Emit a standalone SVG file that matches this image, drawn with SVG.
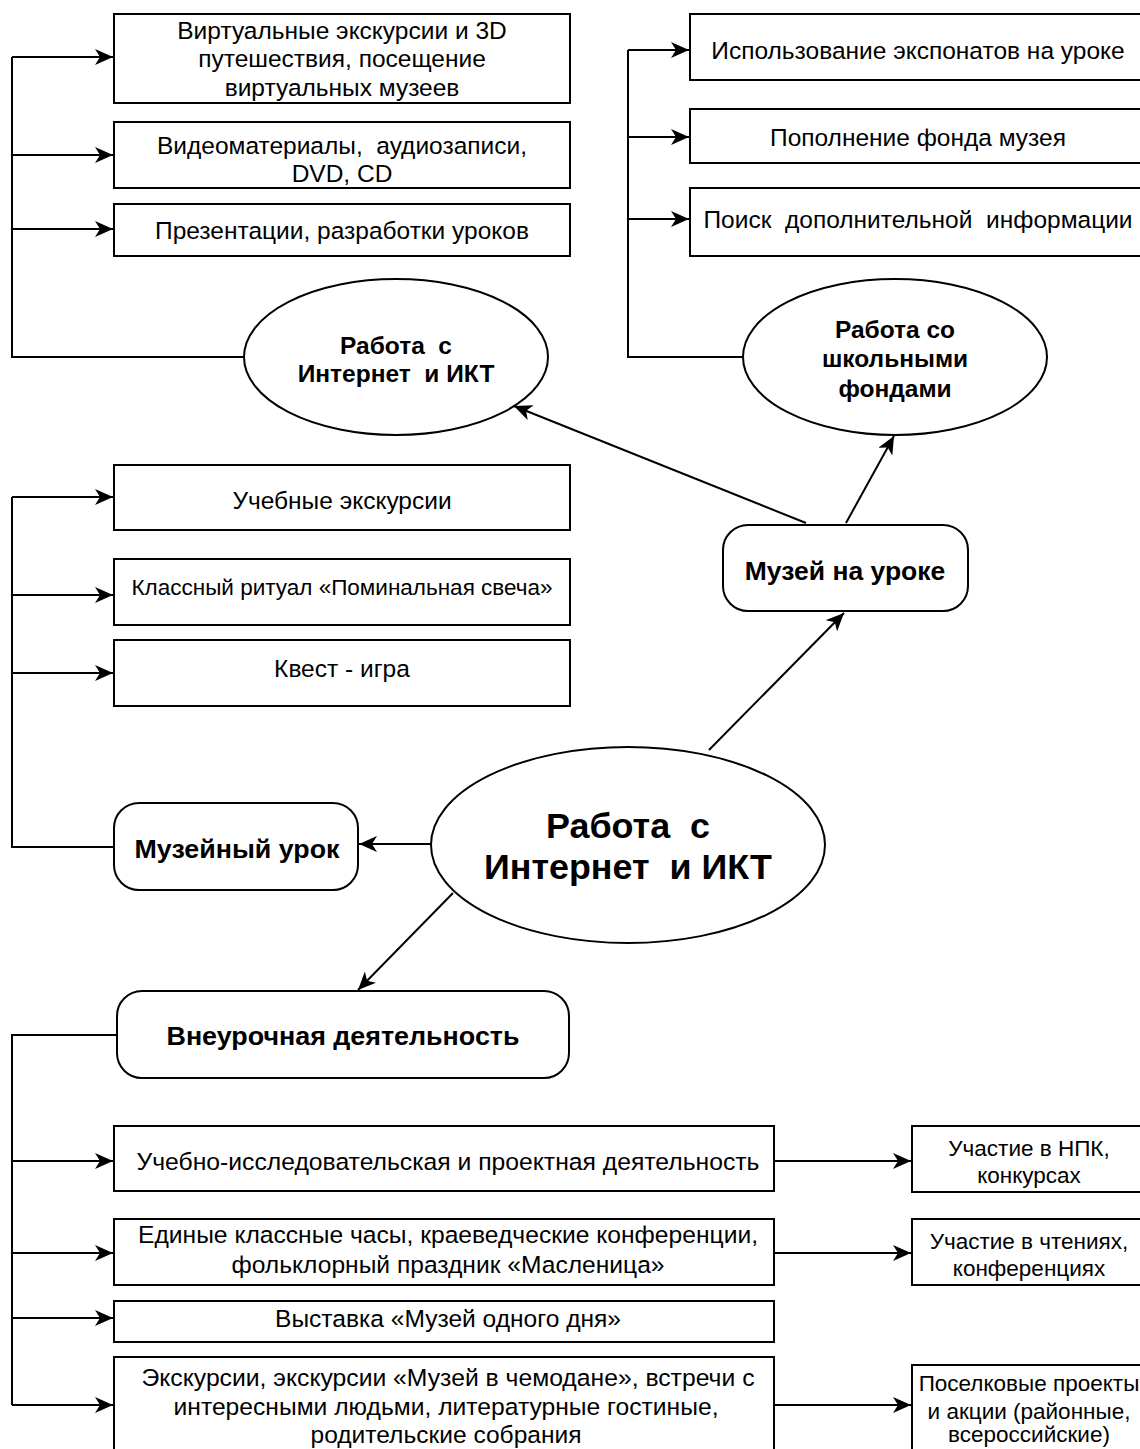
<svg xmlns="http://www.w3.org/2000/svg" width="1140" height="1449" viewBox="0 0 1140 1449">
<style>
.b{fill:#fff;stroke:#000;stroke-width:2}
.t{font-family:"Liberation Sans",Arial,sans-serif;font-size:24.5px;fill:#000;text-anchor:middle}
.s{font-size:22.5px}
.bd{font-weight:bold}
.c{stroke:#000;stroke-width:2;fill:none}
.a{marker-end:url(#ar)}
</style>
<defs>
<marker id="ar" markerUnits="userSpaceOnUse" markerWidth="20" markerHeight="16" refX="18" refY="8" orient="auto">
<path d="M0,0 L18,8 L0,16 L5,8 z" fill="#000"/>
</marker>
</defs>
<rect width="1140" height="1449" fill="#fff"/>
<g id="connectors">
<path class="c" d="M244,357 H12 V57"/>
<path class="c a" d="M12,57 H113"/>
<path class="c a" d="M12,155 H113"/>
<path class="c a" d="M12,229 H113"/>
<path class="c" d="M743,357 H628 V50"/>
<path class="c a" d="M628,50 H689"/>
<path class="c a" d="M628,137 H689"/>
<path class="c a" d="M628,219 H689"/>
<path class="c a" d="M806,523 L514,406"/>
<path class="c a" d="M846,523 L894,436"/>
<path class="c a" d="M709,750 L844,613"/>
<path class="c" d="M114,847 H12 V497"/>
<path class="c a" d="M12,497 H113"/>
<path class="c a" d="M12,595 H113"/>
<path class="c a" d="M12,673 H113"/>
<path class="c a" d="M431,844 H359"/>
<path class="c a" d="M453,893 L358,990"/>
<path class="c" d="M117,1035 H12 V1405"/>
<path class="c a" d="M12,1161 H113"/>
<path class="c a" d="M12,1253 H113"/>
<path class="c a" d="M12,1318 H113"/>
<path class="c a" d="M12,1405 H113"/>
<path class="c a" d="M774,1161 H911"/>
<path class="c a" d="M774,1253 H911"/>
<path class="c a" d="M774,1405 H911"/>
</g>
<g id="n1"><rect class="b" x="114" y="14" width="456" height="89"/>
<text class="t" x="342" y="38.5">Виртуальные экскурсии и 3D</text>
<text class="t" x="342" y="66.5">путешествия, посещение</text>
<text class="t" x="342" y="95.5">виртуальных музеев</text></g>
<g id="n2"><rect class="b" x="114" y="122" width="456" height="66"/>
<text class="t" x="342" y="154">Видеоматериалы,&#160; аудиозаписи,</text>
<text class="t" x="342" y="182">DVD, CD</text></g>
<g id="n3"><rect class="b" x="114" y="204" width="456" height="52"/>
<text class="t" x="342" y="239">Презентации, разработки уроков</text></g>
<g id="e1"><ellipse class="b" cx="396" cy="357" rx="152" ry="78"/>
<text class="t bd" x="396" y="354">Работа&#160; с</text>
<text class="t bd" x="396" y="382">Интернет&#160; и ИКТ</text></g>
<g id="n4"><rect class="b" x="690" y="14" width="452" height="66"/>
<text class="t" x="918" y="59">Использование экспонатов на уроке</text></g>
<g id="n5"><rect class="b" x="690" y="109" width="452" height="54"/>
<text class="t" x="918" y="146">Пополнение фонда музея</text></g>
<g id="n6"><rect class="b" x="690" y="188" width="452" height="68"/>
<text class="t" x="918" y="228">Поиск&#160; дополнительной&#160; информации</text></g>
<g id="e2"><ellipse class="b" cx="895" cy="357" rx="152" ry="78"/>
<text class="t bd" x="895" y="338">Работа со</text>
<text class="t bd" x="895" y="367">школьными</text>
<text class="t bd" x="895" y="397">фондами</text></g>
<g id="n7"><rect class="b" x="723" y="525" width="245" height="86" rx="25"/>
<text class="t bd" x="845" y="579.5" style="font-size:26.5px">Музей на уроке</text></g>
<g id="n8"><rect class="b" x="114" y="465" width="456" height="65"/>
<text class="t" x="342" y="509">Учебные экскурсии</text></g>
<g id="n9"><rect class="b" x="114" y="559" width="456" height="66"/>
<text class="t s" x="342" y="595">Классный ритуал «Поминальная свеча»</text></g>
<g id="n10"><rect class="b" x="114" y="640" width="456" height="66"/>
<text class="t" x="342" y="677">Квест - игра</text></g>
<g id="e3"><ellipse class="b" cx="628" cy="845" rx="197" ry="98"/>
<text class="t bd" x="628" y="837.5" style="font-size:35px" textLength="164" lengthAdjust="spacingAndGlyphs">Работа&#160; с</text>
<text class="t bd" x="628" y="878.5" style="font-size:35px" textLength="288" lengthAdjust="spacingAndGlyphs">Интернет&#160; и ИКТ</text></g>
<g id="n11"><rect class="b" x="114" y="803" width="244" height="87" rx="25"/>
<text class="t bd" x="237" y="857.5" style="font-size:26px" textLength="205" lengthAdjust="spacingAndGlyphs">Музейный урок</text></g>
<g id="n12"><rect class="b" x="117" y="991" width="452" height="87" rx="25"/>
<text class="t bd" x="343" y="1044.5" style="font-size:26px" textLength="353" lengthAdjust="spacingAndGlyphs">Внеурочная деятельность</text></g>
<g id="n13"><rect class="b" x="114" y="1126" width="660" height="65"/>
<text class="t" x="448" y="1170" textLength="623" lengthAdjust="spacingAndGlyphs">Учебно-исследовательская и проектная деятельность</text></g>
<g id="n14"><rect class="b" x="114" y="1219" width="660" height="66"/>
<text class="t" x="448" y="1243" textLength="620" lengthAdjust="spacingAndGlyphs">Единые классные часы, краеведческие конференции,</text>
<text class="t" x="448" y="1273" textLength="433" lengthAdjust="spacingAndGlyphs">фольклорный праздник «Масленица»</text></g>
<g id="n15"><rect class="b" x="114" y="1301" width="660" height="41"/>
<text class="t" x="448" y="1327" textLength="346" lengthAdjust="spacingAndGlyphs">Выставка «Музей одного дня»</text></g>
<g id="n16"><rect class="b" x="114" y="1357" width="660" height="100"/>
<text class="t" x="448" y="1386" textLength="613" lengthAdjust="spacingAndGlyphs">Экскурсии, экскурсии «Музей в чемодане», встречи с</text>
<text class="t" x="446" y="1415" textLength="545" lengthAdjust="spacingAndGlyphs">интересными людьми, литературные гостиные,</text>
<text class="t" x="446" y="1443" textLength="271" lengthAdjust="spacingAndGlyphs">родительские собрания</text></g>
<g id="n17"><rect class="b" x="912" y="1126" width="230" height="66"/>
<text class="t s" x="1029" y="1156">Участие в НПК,</text>
<text class="t s" x="1029" y="1183">конкурсах</text></g>
<g id="n18"><rect class="b" x="912" y="1219" width="230" height="66"/>
<text class="t s" x="1029" y="1249">Участие в чтениях,</text>
<text class="t s" x="1029" y="1276">конференциях</text></g>
<g id="n19"><rect class="b" x="912" y="1365" width="230" height="92"/>
<text class="t s" x="1029" y="1391">Поселковые проекты</text>
<text class="t s" x="1029" y="1419">и акции (районные,</text>
<text class="t s" x="1029" y="1442">всероссийские)</text></g>
</svg>
